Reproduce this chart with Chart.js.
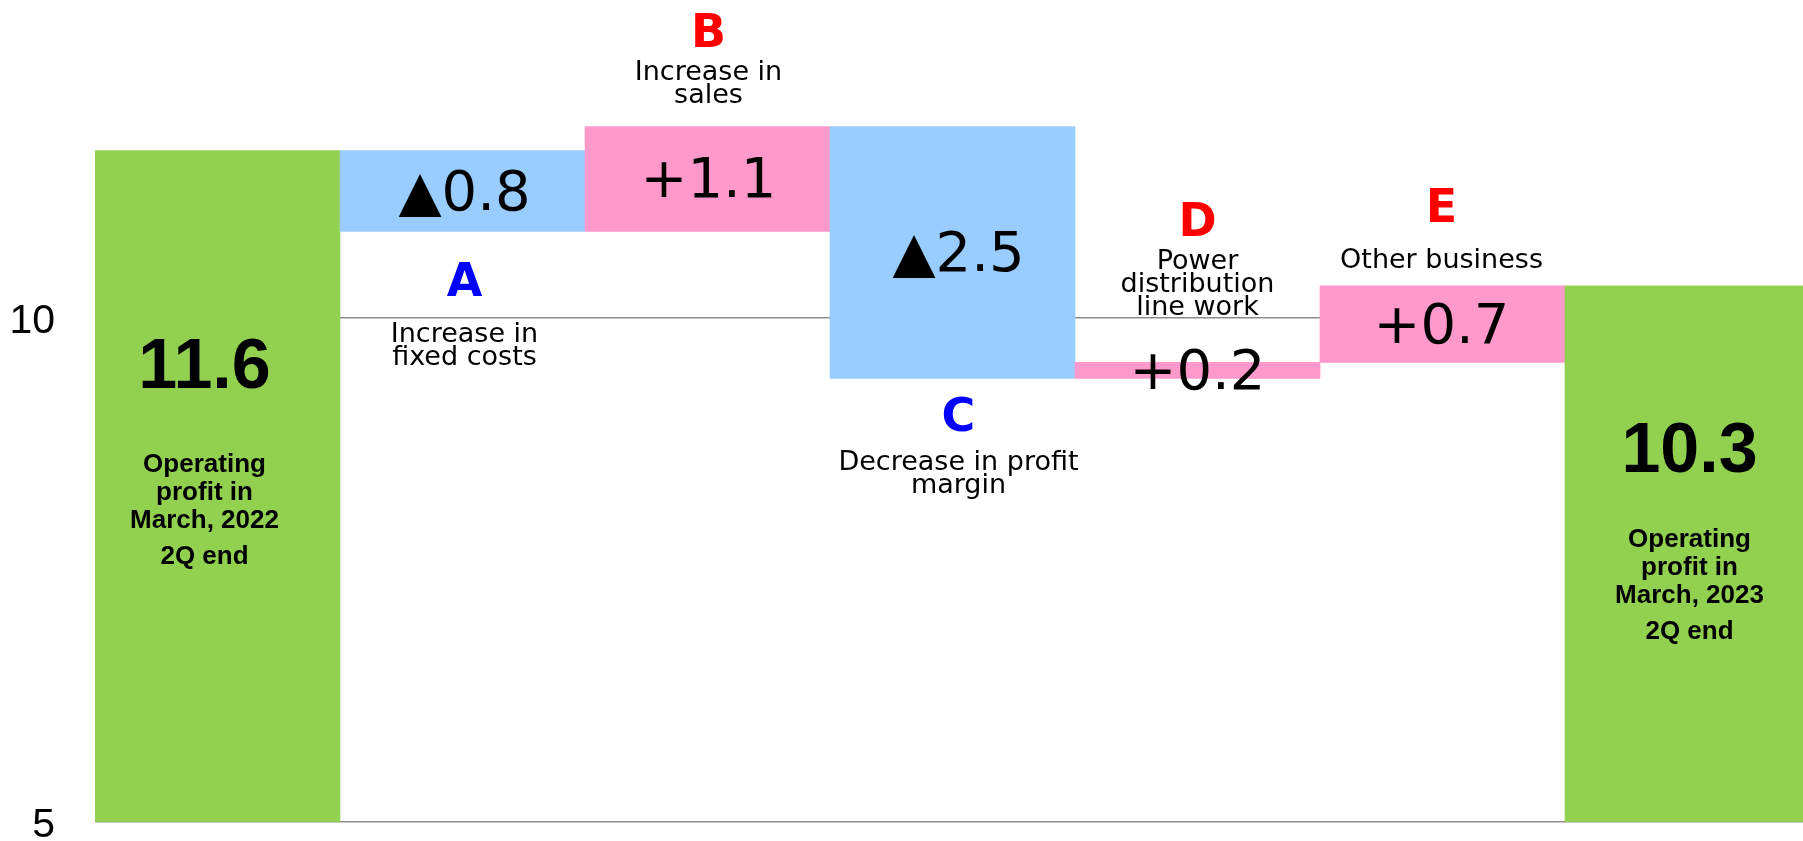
<!DOCTYPE html>
<html>
<head>
<meta charset="utf-8">
<script src="https://cdn.jsdelivr.net/npm/chart.js@4"></script>
<style>
  html, body { margin: 0; padding: 0; background: #fff; overflow: hidden; }
  #wrap { width: 1810px; height: 841px; }
</style>
</head>
<body>
<div id="wrap"><canvas id="grafico" width="1810" height="841"></canvas></div>
<script>
// Datos (beneficio operativo, pasos del puente)
const categorias = ['Operating profit in March, 2022 2Q end', 'A', 'B', 'C', 'D', 'E', 'Operating profit in March, 2023 2Q end']
const inicio = 11.66
const variaciones = [-0.80, 1.04, -2.50, 0.16, 0.76]
const final = 10.32
const yTicks = [5, 10]

// Textos del gráfico
const etiquetasValor = ['11.6', '▲0.8', '+1.1', '▲2.5', '+0.2', '+0.7', '10.3']
const letras = ['', 'A', 'B', 'C', 'D', 'E', '']
const descripciones = [
  ['Operating', 'profit in', 'March, 2022', '2Q end'],
  ['Increase in', 'fixed costs'],
  ['Increase in', 'sales'],
  ['Decrease in profit', 'margin'],
  ['Power', 'distribution', 'line work'],
  ['Other business'],
  ['Operating', 'profit in', 'March, 2023', '2Q end']
]

// Posición de los textos (en valores del eje y) y estilos
const yMin = 5
const yMax = 13
const valorEn = [9.50, null, null, null, null, null, 8.66]
const letraEn = [null, 10.34, 12.81, 9.00, 10.93, 11.07, null]
const descEn = [8.47, 9.76, 12.36, 8.49, 10.49, 10.50, 7.73]
const desplazX = [-13, 2, 1, 6, 0, -1, 2]
const colorLetra = ['', '#0000FF', '#FF0000', '#0000FF', '#FF0000', '#FF0000', '']
const VERDE = '#92D050', AZUL = '#99CCFF', ROSA = '#FF99CC'

// Armamos las barras flotantes
const barras = []
const colores = []
barras.push([yMin, inicio]); colores.push(VERDE)
let nivel = inicio
variaciones.forEach(v => {
  const nuevo = nivel + v
  barras.push([Math.min(nivel, nuevo), Math.max(nivel, nuevo)])
  colores.push(v < 0 ? AZUL : ROSA)
  nivel = nuevo
})
barras.push([yMin, final]); colores.push(VERDE)

const etiquetas = {
  id: 'etiquetas',
  afterDatasetsDraw(chart) {
    const { ctx, scales: { y } } = chart
    const meta = chart.getDatasetMeta(0).data
    ctx.save()
    ctx.textAlign = 'center'
    meta.forEach((bar, i) => {
      const cx = bar.x + desplazX[i]
      const esTotal = valorEn[i] !== null

      // valor
      ctx.fillStyle = '#000'
      ctx.textBaseline = 'middle'
      if (esTotal) {
        ctx.font = 'bold 70px "Liberation Sans", Arial, sans-serif'
        ctx.fillText(etiquetasValor[i], cx, y.getPixelForValue(valorEn[i]))
      } else {
        ctx.font = '56px "DejaVu Sans", sans-serif'
        ctx.fillText(etiquetasValor[i], cx, (bar.y + bar.base) / 2 + 4)
      }

      // letra
      if (letras[i]) {
        ctx.fillStyle = colorLetra[i]
        ctx.font = 'bold 46px "DejaVu Sans", sans-serif'
        ctx.fillText(letras[i], cx, y.getPixelForValue(letraEn[i]))
      }

      // descripción
      ctx.fillStyle = '#000'
      ctx.textBaseline = 'alphabetic'
      let by = y.getPixelForValue(descEn[i])
      const lineas = descripciones[i]
      if (esTotal) {
        ctx.font = 'bold 26px "Liberation Sans", Arial, sans-serif'
        const saltos = [28, 28, 36]
        lineas.forEach((t, k) => {
          ctx.fillText(t, cx, by)
          by += saltos[k] || 28
        })
      } else {
        ctx.font = '27px "DejaVu Sans", sans-serif'
        lineas.forEach(t => {
          ctx.fillText(t, cx, by)
          by += 23
        })
      }
    })
    ctx.restore()
  }
}

new Chart(document.getElementById('grafico'), {
  type: 'bar',
  data: {
    labels: categorias,
    datasets: [{
      data: barras,
      backgroundColor: colores,
      borderWidth: 0,
      barPercentage: 1,
      categoryPercentage: 1
    }]
  },
  options: {
    responsive: false,
    animation: false,
    layout: { padding: { top: 15.6, bottom: 19, left: 0, right: 0 } },
    plugins: { legend: { display: false }, tooltip: { enabled: false } },
    scales: {
      x: { display: false },
      y: {
        min: yMin,
        max: yMax,
        afterBuildTicks(axis) { axis.ticks = yTicks.map(v => ({ value: v })) },
        afterFit(axis) { axis.width = 95; axis.paddingTop = 0; axis.paddingBottom = 0 },
        ticks: {
          color: '#000',
          padding: 40,
          labelOffset: 4,
          font: { family: '"Liberation Sans", Arial, sans-serif', size: 41 },
          callback: v => String(v)
        },
        grid: { color: '#8c8c8c', lineWidth: 1.5, drawTicks: false },
        border: { display: false }
      }
    }
  },
  plugins: [etiquetas]
})
</script>
</body>
</html>
